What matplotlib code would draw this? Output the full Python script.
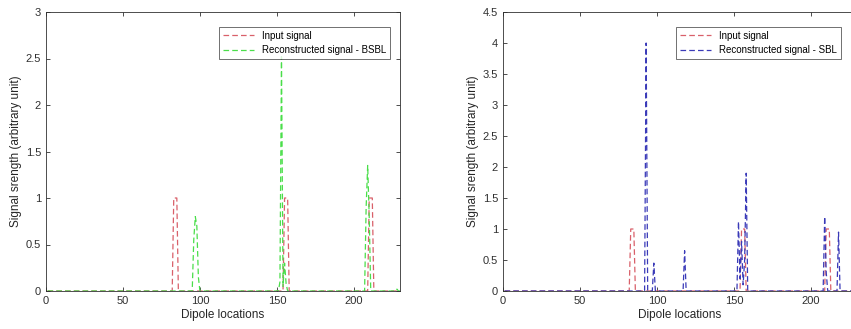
import numpy as np
import matplotlib.pyplot as plt

plt.rcParams['font.family'] = ['Liberation Sans', 'DejaVu Sans']

n_dipoles = 230
locations = np.arange(1, n_dipoles + 1)

# nonzero entries (location, strength)
input_locs = [83, 84, 85, 155, 156, 157, 210, 211, 212]
input_vals = [1.0, 1.0, 1.0, 1.0, 1.0, 1.0, 1.0, 1.0, 1.0]

bsbl_locs = [96, 97, 98, 99, 152, 153, 154, 155, 156, 208, 209, 210, 228]
bsbl_vals = [0.55, 0.8, 0.7, 0.15, 0.1, 2.52, 0.05, 0.3, 0.08, 0.9, 1.35, 0.8, 0.02]

sbl_locs = [93, 98, 118, 153, 154, 155, 156, 157, 158, 209, 210, 218]
sbl_vals = [4.0, 0.45, 0.65, 1.12, 0.2, 0.8, 0.1, 0.5, 1.9, 1.2, 0.3, 0.95]


def to_signal(locs, vals):
    s = np.zeros(n_dipoles)
    s[np.array(locs) - 1] = vals
    return s


u_in = to_signal(input_locs, input_vals)
u_bsbl = to_signal(bsbl_locs, bsbl_vals)
u_sbl = to_signal(sbl_locs, sbl_vals)

red = '#d9606a'
green = '#4ade4a'
blue = '#3a3ab8'
dash = (0, (4.5, 2.5))

fig = plt.figure(figsize=(8.51, 3.29), dpi=100)
ax1 = fig.add_axes([46 / 851, 38 / 329, 354 / 851, 279 / 329])
ax2 = fig.add_axes([503 / 851, 38 / 329, 354 / 851, 279 / 329])


def style(ax, ymax, yticks):
    ax.set_xlim(0, 230)
    ax.set_ylim(0, ymax)
    ax.set_xticks([0, 50, 100, 150, 200])
    ax.set_yticks(yticks)
    ax.set_yticklabels([('%g' % v) for v in yticks])
    ax.tick_params(direction='in', top=True, right=True, length=3,
                   labelsize=8, colors='#303030', width=0.6)
    for sp in ax.spines.values():
        sp.set_color('#303030')
        sp.set_linewidth(0.6)
    ax.set_xlabel('Dipole locations', fontsize=8.5, color='#262626', labelpad=2)
    ax.set_ylabel('Signal srength (arbitrary unit)', fontsize=8.5, color='#262626', labelpad=3)


ax1.plot(locations, u_in, linestyle=dash, color=red, lw=0.9, label='Input signal')
ax1.plot(locations, u_bsbl, linestyle=dash, color=green, lw=0.9, label='Reconstructed signal - BSBL')
style(ax1, 3, np.arange(0, 3.01, 0.5))
leg = ax1.legend(loc='upper right', fontsize=7, fancybox=False, edgecolor='#303030',
                 borderpad=0.4, handlelength=3.2, bbox_to_anchor=(0.985, 0.965))
leg.get_frame().set_linewidth(0.6)

ax2.plot(locations, u_in, linestyle=dash, color=red, lw=0.9, label='Input signal')
ax2.plot(locations, u_sbl, linestyle=dash, color=blue, lw=0.9, label='Reconstructed signal - SBL')
style(ax2, 4.5, np.arange(0, 4.51, 0.5))
leg = ax2.legend(loc='upper right', fontsize=7, fancybox=False, edgecolor='#303030',
                 borderpad=0.4, handlelength=3.2, bbox_to_anchor=(0.968, 0.965))
leg.get_frame().set_linewidth(0.6)

plt.savefig('out.png', dpi=100)
